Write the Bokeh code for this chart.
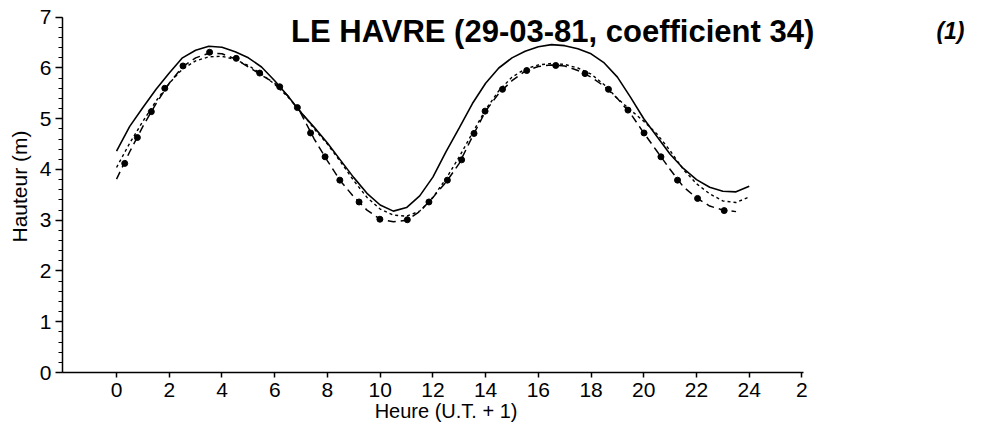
from bokeh.plotting import figure
from bokeh.models import Label, Range1d, FixedTicker, LinearAxis
from bokeh.embed import file_html
from bokeh.resources import INLINE

# half-hourly time axis (hours, U.T. + 1)
hours = [i * 0.5 for i in range(49)]

# predicted curve 1 (solid)
solid = [4.36, 4.85, 5.22, 5.58, 5.90, 6.20, 6.35, 6.43, 6.41, 6.32,
         6.20, 6.02, 5.75, 5.45, 5.12, 4.83, 4.52, 4.18, 3.84, 3.53,
         3.30, 3.18, 3.25, 3.48, 3.85, 4.35, 4.82, 5.30, 5.70, 6.00,
         6.20, 6.33, 6.42, 6.46, 6.44, 6.38, 6.28, 6.10, 5.82, 5.42,
         5.00, 4.65, 4.30, 4.02, 3.80, 3.65, 3.57, 3.56, 3.67]

# predicted curve 2 (short dashes)
short = [4.04, 4.52, 4.95, 5.35, 5.70, 5.98, 6.14, 6.22, 6.23, 6.17,
         6.05, 5.88, 5.68, 5.43, 5.13, 4.80, 4.50, 4.15, 3.78, 3.45,
         3.22, 3.10, 3.08, 3.18, 3.45, 3.82, 4.25, 4.72, 5.18, 5.55,
         5.82, 5.98, 6.06, 6.09, 6.07, 6.00, 5.88, 5.67, 5.40, 5.17,
         4.95, 4.70, 4.37, 4.00, 3.72, 3.52, 3.38, 3.35, 3.46]

# predicted curve 3 (long dashes), 0 h .. 23.5 h
long_hours = hours[:48]
long_ = [3.81, 4.35, 4.85, 5.30, 5.70, 6.02, 6.20, 6.29, 6.28, 6.18,
         6.02, 5.86, 5.70, 5.45, 5.10, 4.60, 4.17, 3.77, 3.46, 3.20,
         3.02, 2.97, 3.00, 3.17, 3.45, 3.75, 4.12, 4.65, 5.15, 5.50,
         5.75, 5.94, 6.03, 6.06, 6.04, 5.95, 5.82, 5.64, 5.40, 5.10,
         4.72, 4.36, 4.00, 3.66, 3.44, 3.28, 3.20, 3.17]

# observed heights (dots)
obs_h = [0.31, 0.79, 1.32, 1.83, 2.52, 3.53, 4.54, 5.43, 6.19, 6.86,
         7.36, 7.91, 8.47, 9.20, 9.99, 11.03, 11.85, 12.55, 13.09, 13.56,
         13.98, 14.64, 15.56, 16.66, 17.77, 18.66, 19.40, 20.01, 20.65, 21.28,
         22.04, 23.05]
obs_v = [4.12, 4.63, 5.14, 5.60, 6.04, 6.31, 6.19, 5.90, 5.63, 5.22,
         4.72, 4.25, 3.79, 3.36, 3.02, 3.01, 3.36, 3.79, 4.19, 4.71,
         5.15, 5.58, 5.95, 6.05, 5.89, 5.58, 5.17, 4.72, 4.25, 3.79,
         3.43, 3.19]

x_ticks = [0, 2, 4, 6, 8, 10, 12, 14, 16, 18, 20, 22, 24, 26]
x_tick_labels = {26: "2"}
y_ticks = [0, 1, 2, 3, 4, 5, 6, 7]
y_minor = [round(i * 0.2, 1) for i in range(36)]

title_text = "LE HAVRE (29-03-81, coefficient 34)"
note_text = "(1)"
x_label = "Heure (U.T. + 1)"
x_label_pos = 12.5
y_label = "Hauteur (m)"

FONT = "Liberation Sans"

# axis extents (the frame itself is larger so the title is not clipped)
X_AXIS = (-2.05, 26.05)
Y_AXIS = (0, 7)

p = figure(width=986, height=431, output_backend="svg", toolbar_location=None,
           x_range=Range1d(-2.05, 33.0), y_range=Range1d(0, 7.33),
           min_border_left=62, min_border_right=0,
           min_border_top=0, min_border_bottom=59)
p.outline_line_color = None
p.grid.visible = False
p.background_fill_color = "white"
p.border_fill_color = "white"

xa = p.xaxis[0]
xa.bounds = X_AXIS
xa.ticker = FixedTicker(ticks=x_ticks, minor_ticks=[])
xa.major_label_overrides = x_tick_labels
xa.major_tick_in = 0
xa.major_tick_out = 5
xa.minor_tick_in = 0
xa.minor_tick_out = 0
xa.axis_line_width = 1.5
xa.major_tick_line_width = 1.5
xa.major_label_standoff = 5
xa.major_label_text_font = FONT
xa.major_label_text_font_size = "21px"
xa.major_label_text_color = "black"

# x-axis title, placed off-centre as in the original figure
xlab = LinearAxis(ticker=FixedTicker(ticks=[x_label_pos], minor_ticks=[]),
                  major_label_overrides={x_label_pos: x_label},
                  axis_line_color=None, major_tick_line_color=None,
                  minor_tick_line_color=None, major_tick_out=0, major_tick_in=0,
                  minor_tick_out=0, minor_tick_in=0, major_label_standoff=0,
                  major_label_text_font=FONT, major_label_text_font_size="20px",
                  major_label_text_color="black")
p.add_layout(xlab, "below")

ya = p.yaxis[0]
ya.bounds = Y_AXIS
ya.ticker = FixedTicker(ticks=y_ticks, minor_ticks=y_minor)
ya.major_tick_in = 0
ya.major_tick_out = 7
ya.minor_tick_in = 0
ya.minor_tick_out = 4
ya.axis_line_width = 1.5
ya.major_tick_line_width = 1.5
ya.minor_tick_line_width = 1.2
ya.major_label_standoff = 4
ya.major_label_text_font = FONT
ya.major_label_text_font_size = "21px"
ya.major_label_text_color = "black"
ya.axis_label = y_label
ya.axis_label_text_font = FONT
ya.axis_label_text_font_style = "normal"
ya.axis_label_text_font_size = "21px"
ya.axis_label_text_color = "black"
ya.axis_label_standoff = 6

p.line(hours, solid, line_color="black", line_width=1.6)
p.line(hours, short, line_color="black", line_width=1.4, line_dash="3 3")
p.line(long_hours, long_, line_color="black", line_width=1.5, line_dash="8 5")
p.scatter(obs_h, obs_v, size=6, color="black")

p.add_layout(Label(x=6.62, y=6.72, text=title_text, text_font=FONT,
                   text_font_style="bold", text_font_size="31px",
                   text_color="black", text_baseline="alphabetic"))
p.add_layout(Label(x=31.1, y=6.72, text=note_text, text_font=FONT,
                   text_font_style="bold italic", text_font_size="23px",
                   text_color="black", text_baseline="alphabetic"))

open("out.html", "w").write(file_html(p, INLINE))
